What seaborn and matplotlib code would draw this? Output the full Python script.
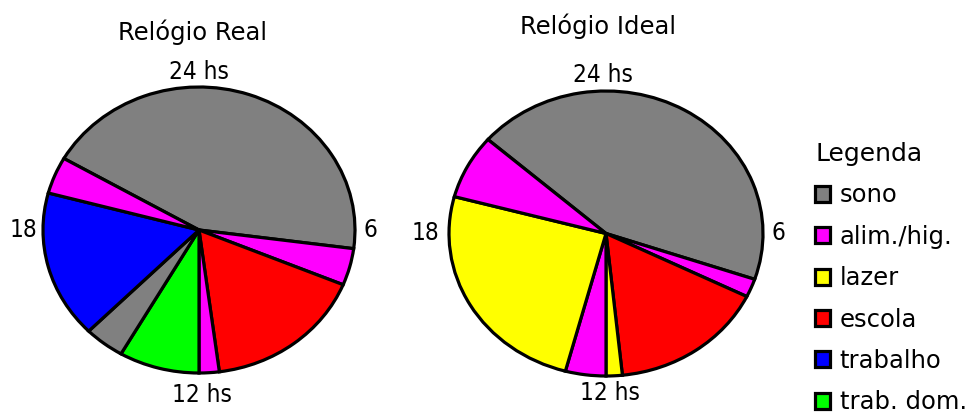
import matplotlib
matplotlib.use("Agg")
import matplotlib.pyplot as plt
import seaborn as sns
from matplotlib.patches import Patch

sns.set_theme(style="white")
plt.rcParams['font.family'] = ['DejaVu Sans']
plt.rcParams['text.color'] = 'black'
plt.rcParams['legend.labelcolor'] = 'black'

# ---- data (hours, clockwise from the start hour) ----
real_labels = ['sono', 'alim./hig.', 'escola', 'alim./hig.', 'trab. dom.', 'sono', 'trabalho', 'alim./hig.']
real_hours = [10.5, 1.0, 4.0, 0.5, 2.0, 1.0, 4.0, 1.0]
real_start_hour = 20.0

ideal_labels = ['sono', 'alim./hig.', 'escola', 'lazer', 'alim./hig.', 'lazer', 'alim./hig.']
ideal_hours = [10.5, 0.5, 3.85, 0.4, 1.0, 6.0, 1.75]
ideal_start_hour = 20.75

legend_labels = ['sono', 'alim./hig.', 'lazer', 'escola', 'trabalho', 'trab. dom.']
legend_colors = ['#808080', '#FF00FF', '#FFFF00', '#FF0000', '#0000FF', '#00FF00']
color_map = dict(zip(legend_labels, legend_colors))

W, H = 969, 413
fig = plt.figure(figsize=(W / 100, H / 100), dpi=100)


def make_ax(cx, cy, rx, ry):
    return fig.add_axes([(cx - rx) / W, (H - cy - ry) / H, 2 * rx / W, 2 * ry / H])


def draw_clock(ax, hours, labels, start_hour, title, pos):
    start = 90 - start_hour * 15
    wedges, _ = ax.pie(hours, colors=[color_map[l] for l in labels], startangle=start,
                       counterclock=False, radius=1,
                       wedgeprops=dict(edgecolor='black', linewidth=2.3))
    for w in wedges:
        w.set_clip_on(False)
    ax.set_aspect('auto')
    ax.set_xlim(-1, 1)
    ax.set_ylim(-1, 1)
    ax.axis('off')
    fs = 17.5
    ax.text(pos['title'][0], pos['title'][1], title, ha='center', va='center', fontsize=17.5, color='black')
    for key, txt in (('24', '24 hs'), ('12', '12 hs'), ('6', '6'), ('18', '18')):
        ax.text(pos[key][0], pos[key][1], txt, ha='center', va='center', fontsize=fs,
                fontstretch='condensed', color='black')


ax1 = make_ax(199, 230, 156, 143)
draw_clock(ax1, real_hours, real_labels, real_start_hour, 'Relógio Real',
           {'title': (-0.04, 1.385), '24': (0.0, 1.105), '12': (0.02, -1.154),
            '6': (1.096, 0.0), '18': (-1.128, 0.0)})

ax2 = make_ax(606, 233.5, 157, 142.5)
draw_clock(ax2, ideal_hours, ideal_labels, ideal_start_hour, 'Relógio Ideal',
           {'title': (-0.05, 1.456), '24': (-0.02, 1.112), '12': (0.025, -1.12),
            '6': (1.096, 0.0), '18': (-1.153, 0.0)})

handles = [Patch(facecolor=c, edgecolor='black', linewidth=2.3) for c in legend_colors]
leg = fig.legend(handles, legend_labels, title='Legenda', loc='upper left',
                 bbox_to_anchor=(815 / W, 1 - 142 / H), frameon=False,
                 fontsize=17.5, title_fontsize=18, handlelength=0.63, handleheight=0.63,
                 handletextpad=0.38, labelspacing=0.715, borderpad=0, borderaxespad=0)
leg._legend_box.align = 'left'
leg.get_title().set_color('black')

fig.savefig('out.png', dpi=100, facecolor='white')
